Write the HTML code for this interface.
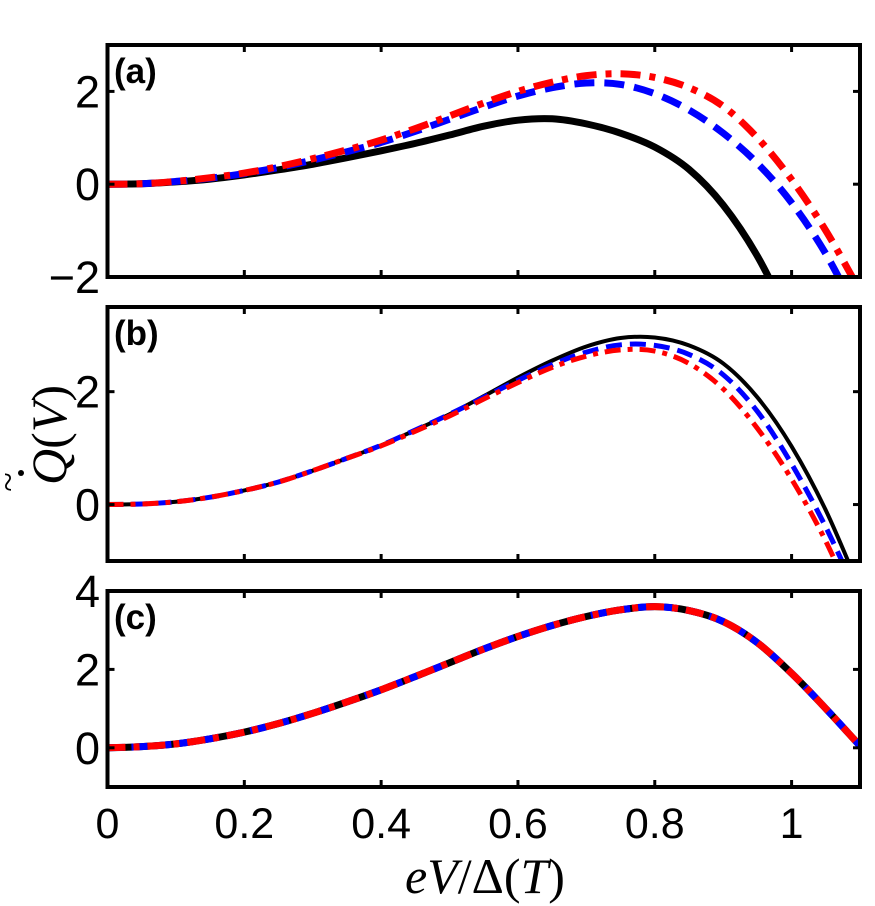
<!DOCTYPE html>
<html><head><meta charset="utf-8"><style>
body{margin:0;background:#fff;}
svg{display:block;font-family:"Liberation Sans",sans-serif;}
</style></head><body>
<svg id="chart" width="875" height="906" viewBox="0 0 875 906"></svg>
<script>
const xTicks=[0,0.2,0.4,0.6,0.8,1];
const xTickLabels=["0","0.2","0.4","0.6","0.8","1"];
// panel a
const aX_black=[0,0.05,0.1,0.15,0.2,0.25,0.3,0.35,0.4,0.45,0.5,0.55,0.6,0.65,0.7,0.75,0.8,0.85,0.9,0.95,1.0];
const aY_black=[0,0.01,0.05,0.11,0.2,0.31,0.43,0.57,0.72,0.88,1.06,1.25,1.38,1.41,1.3,1.1,0.8,0.32,-0.45,-1.55,-3.0];
const aX_blue=[0,0.05,0.1,0.15,0.2,0.25,0.3,0.35,0.4,0.45,0.5,0.55,0.6,0.65,0.7,0.75,0.8,0.85,0.9,0.95,1.0,1.05,1.1];
const aY_blue=[0,0.01,0.06,0.13,0.23,0.36,0.52,0.7,0.9,1.14,1.4,1.66,1.9,2.08,2.18,2.15,1.95,1.6,1.1,0.45,-0.4,-1.5,-2.9];
const aX_red=[0,0.05,0.1,0.15,0.2,0.25,0.3,0.35,0.4,0.45,0.5,0.55,0.6,0.65,0.7,0.75,0.8,0.85,0.9,0.95,1.0,1.05,1.1];
const aY_red=[0,0.01,0.06,0.14,0.24,0.38,0.55,0.74,0.95,1.2,1.47,1.75,2.0,2.2,2.34,2.38,2.3,2.08,1.68,1.0,0.1,-1.0,-2.3];
// panel b
const bX=[0,0.05,0.1,0.15,0.2,0.25,0.3,0.35,0.4,0.45,0.5,0.55,0.6,0.65,0.7,0.75,0.8,0.85,0.9,0.95,1.0,1.05,1.1];
const bY_black=[0,0.01,0.05,0.13,0.25,0.4,0.6,0.82,1.05,1.32,1.6,1.92,2.25,2.55,2.8,2.95,2.96,2.82,2.5,1.9,1.03,-0.1,-1.5];
const bY_blue=[0,0.01,0.05,0.13,0.25,0.4,0.6,0.82,1.05,1.32,1.6,1.9,2.2,2.48,2.7,2.83,2.82,2.66,2.3,1.65,0.72,-0.4,-1.7];
const bY_red=[0,0.01,0.05,0.13,0.25,0.4,0.6,0.82,1.04,1.3,1.57,1.87,2.16,2.43,2.63,2.74,2.72,2.5,2.05,1.35,0.45,-0.65,-2.0];
// panel c
const cX=[0,0.05,0.1,0.15,0.2,0.25,0.3,0.35,0.4,0.45,0.5,0.55,0.6,0.65,0.7,0.75,0.8,0.85,0.9,0.95,1.0,1.05,1.1];
const cY=[0,0.03,0.1,0.23,0.4,0.62,0.88,1.17,1.48,1.82,2.17,2.52,2.84,3.12,3.35,3.52,3.6,3.5,3.22,2.68,1.9,1.0,0.05];

const svg=document.getElementById('chart');
const NS="http://www.w3.org/2000/svg";
function mk(tag,attrs,parent){const e=document.createElementNS(NS,tag);for(const k in attrs)e.setAttribute(k,attrs[k]);(parent||svg).appendChild(e);return e;}
const L=107.5,R=860;
const sx=v=>L+(R-L)*v/1.1;
function pathD(xs,ys,sy){
  const p=xs.map((x,i)=>[sx(x),sy(ys[i])]);
  let d="M"+p[0][0]+","+p[0][1];
  for(let i=0;i<p.length-1;i++){
    const p0=p[Math.max(i-1,0)],p1=p[i],p2=p[i+1],p3=p[Math.min(i+2,p.length-1)];
    const c1=[p1[0]+(p2[0]-p0[0])/6,p1[1]+(p2[1]-p0[1])/6];
    const c2=[p2[0]-(p3[0]-p1[0])/6,p2[1]-(p3[1]-p1[1])/6];
    d+=` C${c1[0]},${c1[1]} ${c2[0]},${c2[1]} ${p2[0]},${p2[1]}`;
  }
  return d;
}
const panels=[
 {id:'a',top:45,bot:277,ymin:-2,ymax:3,yt:[-2,0,2],label:'(a)',
  series:[{x:aX_black,y:aY_black,c:'#000',w:7,da:''},{x:aX_blue,y:aY_blue,c:'#00f',w:7,da:'20,10'},{x:aX_red,y:aY_red,c:'#f00',w:7,da:'20,9,6,9'}]},
 {id:'b',top:307,bot:561,ymin:-1,ymax:3.5,yt:[0,2],label:'(b)',
  series:[{x:bX,y:bY_black,c:'#000',w:4,da:''},{x:bX,y:bY_blue,c:'#00f',w:5,da:'16,8'},{x:bX,y:bY_red,c:'#f00',w:5,da:'16,7,5,7'}]},
 {id:'c',top:591,bot:787,ymin:-1,ymax:4,yt:[0,2,4],label:'(c)',
  series:[{x:cX,y:cY,c:'#000',w:7,da:''},{x:cX,y:cY,c:'#00f',w:7,da:'16,8'},{x:cX,y:cY,c:'#f00',w:7,da:'18,8,6,8'}]}
];
panels.forEach((P,pi)=>{
  const g=mk('g',{});
  
  
  const sy=v=>P.bot-(P.bot-P.top)*(v-P.ymin)/(P.ymax-P.ymin);
  const cp=mk('clipPath',{id:'clip'+P.id},g);
  mk('rect',{x:L,y:P.top,width:R-L,height:P.bot-P.top},cp);
  const sg=mk('g',{'clip-path':'url(#clip'+P.id+')'},g);
  const names=['black','blue','red'];
  P.series.forEach((s,si)=>{
    const el=mk('path',{d:pathD(s.x,s.y,sy),fill:'none',stroke:s.c,'stroke-width':s.w,'stroke-dasharray':s.da,'stroke-linejoin':'round'},sg);
    
    
  });
  const fr=mk('rect',{x:L,y:P.top,width:R-L,height:P.bot-P.top,fill:'none',stroke:'#000','stroke-width':4},g);
  
  
  xTicks.forEach((t,i)=>{
    mk('line',{x1:sx(t),x2:sx(t),y1:P.top,y2:P.top+7,stroke:'#000','stroke-width':3},g);
    mk('line',{x1:sx(t),x2:sx(t),y1:P.bot,y2:P.bot-7,stroke:'#000','stroke-width':3},g);
    if(pi===2){const tx=mk('text',{x:sx(t),y:838,'font-size':43,'text-anchor':'middle'},g);tx.textContent=xTickLabels[i];
      }
  });
  P.yt.forEach(t=>{
    mk('line',{x1:L,x2:L+7,y1:sy(t),y2:sy(t),stroke:'#000','stroke-width':3},g);
    mk('line',{x1:R,x2:R-7,y1:sy(t),y2:sy(t),stroke:'#000','stroke-width':3},g);
    const tx=mk('text',{x:100,y:sy(t)+16,'font-size':45,'text-anchor':'end'},g);
    tx.textContent=(t<0?'\u2212':'')+Math.abs(t);
    
  });
  const lb=mk('text',{x:114,y:P.top+38,'font-size':35,'font-weight':'bold'},g);
  lb.textContent=P.label;
  
  
});
const xl=mk('text',{x:485,y:893,'font-size':50,'text-anchor':'middle','font-family':'Liberation Serif, serif'});
xl.innerHTML='<tspan font-style="italic">eV</tspan>/Δ(<tspan font-style="italic">T</tspan>)';


const yl=mk('text',{x:0,y:0,'font-size':50,'text-anchor':'middle','font-family':'Liberation Serif, serif',transform:'translate(66,435) rotate(-90)'});
yl.innerHTML='<tspan font-style="italic">Q</tspan>(<tspan font-style="italic">V</tspan>)';


const ya=mk('text',{x:0,y:0,'font-size':36,'text-anchor':'middle','font-family':'Liberation Serif, serif',transform:'translate(20,482) rotate(-90)'});
ya.textContent='~';


const yd=mk('circle',{cx:21,cy:473,r:3,fill:'#000'});


</script>
</body></html>
